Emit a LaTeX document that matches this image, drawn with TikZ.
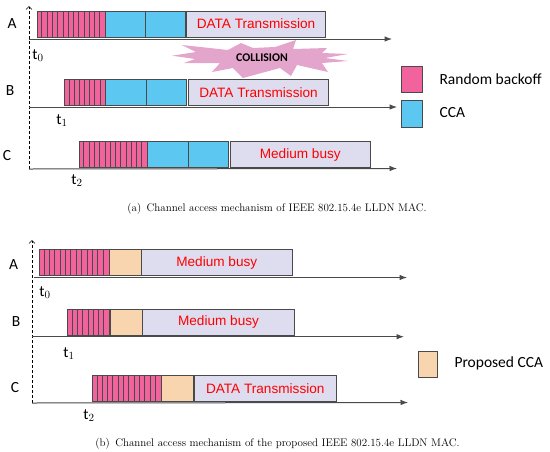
\documentclass[tikz,border=0pt]{standalone}
\usepackage{fontspec}
\setsansfont{Liberation Sans}
\newfontfamily\calfont{Carlito}
\usetikzlibrary{arrows.meta}
\definecolor{backoffpink}{HTML}{F2639E}
\definecolor{ccablue}{HTML}{5CC8F2}
\definecolor{propcca}{HTML}{F8D5AE}
\definecolor{busylilac}{HTML}{DEDDEF}
\definecolor{burstpink}{HTML}{E3A5CB}
\definecolor{edgegray}{HTML}{4A4A4A}
\tikzset{
  slot/.style = {draw = edgegray, line width = 1pt, anchor = north west, inner sep = 0pt, minimum height = 26pt},
  backoff/.style = {slot, fill = backoffpink},
  cca/.style = {slot, fill = ccablue},
  pcca/.style = {slot, fill = propcca},
  busy/.style = {slot, fill = busylilac, font = \sffamily\fontsize{13.6}{15}\selectfont, text = red},
  timeline/.style = {-Latex, draw = edgegray, line width = 1pt},
  yaxis/.style = {-{Straight Barb[length=3pt]}, densely dashed, line width = .6pt},
  stationlab/.style = {font = \calfont\fontsize{15.5}{18}\selectfont},
  legendlab/.style = {anchor = west, font = \calfont\fontsize{15.5}{18}\selectfont},
  caplab/.style = {font = \fontsize{11}{12}\selectfont}
}
\begin{document}
\begin{tikzpicture}[x = 1pt, y = -1pt]
  \useasboundingbox (0, 0) rectangle (550, 451);
  % upper panel
  \coordinate (o1) at (29, 169);
  \coordinate (top1) at (29, 6);
  \coordinate (as) at (29, 39);
  \coordinate (ae) at (392, 39);
  \coordinate (bs) at (29, 107);
  \coordinate (be) at (397, 107);
  \coordinate (ce) at (397, 168.5);
  \draw[yaxis] (o1) -- (top1);
  \draw[timeline] (as) -- (ae);
  \draw[timeline] (bs) -- (be);
  \draw[timeline] (o1) -- (ce);
  \node[stationlab] at (12, 24) (la) {A};
  \node[stationlab] at (10, 91) (lb) {B};
  \node[stationlab] at (7, 156) (lc) {C};
  \node[stationlab] at (38, 56) (t0) {t$_0$};
  \node[stationlab] at (62, 121) (t1) {t$_1$};
  \node[stationlab] at (77, 181) (t2) {t$_2$};
  \node[backoff, minimum width = 68.5pt] at (36.5, 10.5) (abo) {};
  \node[cca, minimum width = 40pt] at (105, 10.5) (ac1) {};
  \node[cca, minimum width = 40pt] at (145, 10.5) (ac2) {};
  \node[busy, minimum width = 139pt] at (186, 10.5) (ad) {DATA Transmission};
  \node[backoff, minimum width = 41pt] at (64, 79) (bbo) {};
  \node[cca, minimum width = 41pt] at (105, 79) (bc1) {};
  \node[cca, minimum width = 39.5pt] at (146, 79) (bc2) {};
  \node[busy, minimum width = 140pt] at (188, 79) (bd) {DATA Transmission};
  \node[backoff, minimum width = 68.5pt] at (78.5, 141) (cbo) {};
  \node[cca, minimum width = 41pt] at (147, 141) (cc1) {};
  \node[cca, minimum width = 40pt] at (188, 141) (cc2) {};
  \node[busy, minimum width = 139.5pt] at (230, 141) (cd) {Medium busy};
  \foreach \x in {1, ..., 12}
  {
  \draw[edgegray, line width = .6pt] ({36.5 + 5.27*\x}, 10.5) -- ({36.5 + 5.27*\x}, 36.5);
  \draw[edgegray, line width = .6pt] ({78.5 + 5.27*\x}, 141) -- ({78.5 + 5.27*\x}, 167);
  }
  \foreach \x in {1, ..., 7}
  {
  \draw[edgegray, line width = .6pt] ({64 + 5.13*\x}, 79) -- ({64 + 5.13*\x}, 105);
  }
  % collision burst
  \fill[burstpink] (172, 55.7) -- (196, 52) -- (182, 45) -- (228, 50) -- (241, 43) -- (253, 48) -- (275, 47)
    -- (296, 40) -- (293, 49) -- (327, 48) -- (322, 53) -- (348, 54) -- (325, 58) -- (348, 61)
    -- (322, 63) -- (328, 72) -- (297, 65) -- (291, 76) -- (280, 68) -- (243, 78) -- (233, 68)
    -- (212, 72) -- (220, 63) -- (184, 63) -- (195, 59) -- cycle;
  \node[font = \calfont\bfseries\fontsize{11.8}{13}\selectfont] at (262, 58) (burst) {COLLISION};
  % legend
  \node[backoff, minimum width = 20.5pt] at (401, 65.5) (lgbo) {};
  \node[cca, minimum width = 20.5pt, minimum height = 26.5pt] at (401, 100) (lgcca) {};
  \node[legendlab] at (436, 79) (lgbot) {Random backoff};
  \node[legendlab] at (436, 112.5) (lgccat) {CCA};
  \node[caplab] at (277, 208.5) (capa) {(a)\enspace Channel access mechanism of IEEE 802.15.4e LLDN MAC.};
  % lower panel
  \coordinate (o2) at (32, 403);
  \coordinate (top2) at (32, 240);
  \coordinate (ds) at (34, 277.5);
  \coordinate (de) at (407, 277.5);
  \coordinate (es) at (32, 336.7);
  \coordinate (ee) at (404, 336.7);
  \coordinate (fe) at (408, 402.5);
  \draw[yaxis] (o2) -- (top2);
  \draw[timeline] (ds) -- (de);
  \draw[timeline] (es) -- (ee);
  \draw[timeline] (o2) -- (fe);
  \node[stationlab] at (13.5, 265) (ld) {A};
  \node[stationlab] at (16, 322) (le) {B};
  \node[stationlab] at (15, 388) (lf) {C};
  \node[stationlab] at (45, 293) (u0) {t$_0$};
  \node[stationlab] at (69, 354) (u1) {t$_1$};
  \node[stationlab] at (89, 416) (u2) {t$_2$};
  \node[backoff, minimum width = 70pt] at (38.5, 249) (dbo) {};
  \node[pcca, minimum width = 32pt] at (108.5, 249) (dc) {};
  \node[busy, minimum width = 150.5pt] at (141, 249) (dd) {Medium busy};
  \node[backoff, minimum width = 42pt] at (67, 308.5) (ebo) {};
  \node[pcca, minimum width = 32pt] at (109.5, 308.5) (ec) {};
  \node[busy, minimum width = 152pt] at (142, 308.5) (ed) {Medium busy};
  \node[backoff, minimum width = 69pt] at (91.5, 375) (fbo) {};
  \node[pcca, minimum width = 32pt] at (161, 375) (fc) {};
  \node[busy, minimum width = 141.5pt] at (194, 375) (fd) {DATA Transmission};
  \foreach \x in {1, ..., 12}
  {
  \draw[edgegray, line width = .6pt] ({38.5 + 5.38*\x}, 249) -- ({38.5 + 5.38*\x}, 275);
  \draw[edgegray, line width = .6pt] ({91.5 + 5.31*\x}, 375) -- ({91.5 + 5.31*\x}, 401);
  }
  \foreach \x in {1, ..., 7}
  {
  \draw[edgegray, line width = .6pt] ({67 + 5.25*\x}, 308.5) -- ({67 + 5.25*\x}, 334.5);
  }
  \node[pcca, minimum width = 19pt, minimum height = 26.5pt] at (418, 350.5) (lgp) {};
  \node[legendlab] at (451, 363) (lgpt) {Proposed CCA};
  \node[caplab] at (277.5, 444) (capb) {(b)\enspace Channel access mechanism of the proposed IEEE 802.15.4e LLDN MAC.};
\end{tikzpicture}
\end{document}
